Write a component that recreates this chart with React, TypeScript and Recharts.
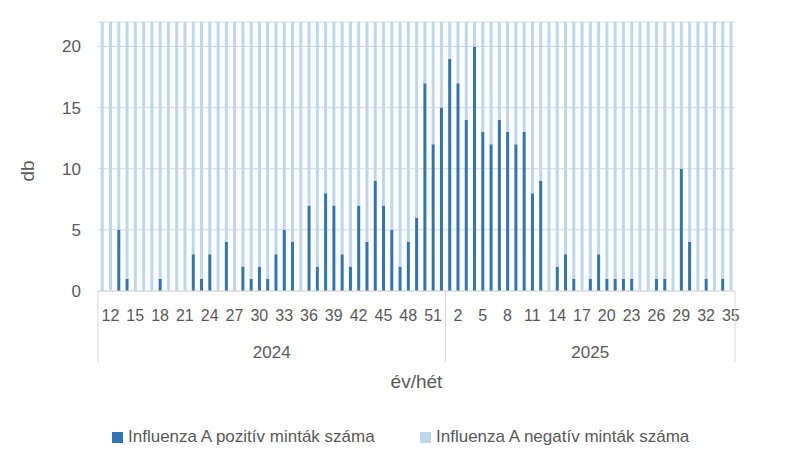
import React from 'react';
import { BarChart, Bar, XAxis, YAxis, CartesianGrid, Legend } from 'recharts';

// ---- categories ----
const weeks2024 = [11, 12, 13, 14, 15, 16, 17, 18, 19, 20, 21, 22, 23, 24, 25, 26, 27, 28, 29, 30, 31, 32, 33, 34, 35, 36, 37, 38, 39, 40, 41, 42, 43, 44, 45, 46, 47, 48, 49, 50, 51, 52];
const weeks2025 = [1, 2, 3, 4, 5, 6, 7, 8, 9, 10, 11, 12, 13, 14, 15, 16, 17, 18, 19, 20, 21, 22, 23, 24, 25, 26, 27, 28, 29, 30, 31, 32, 33, 34, 35];

// ---- tick labels shown on the axis ----
const shownTicks2024 = [12, 15, 18, 21, 24, 27, 30, 33, 36, 39, 42, 45, 48, 51];
const shownTicks2025 = [2, 5, 8, 11, 14, 17, 20, 23, 26, 29, 32, 35];

// ---- series values ----
const positive2024 = [0, 0, 5, 1, 0, 0, 0, 1, 0, 0, 0, 3, 1, 3, 0, 4, 0, 2, 1, 2, 1, 3, 5, 4, 0, 7, 2, 8, 7, 3, 2, 7, 4, 9, 7, 5, 2, 4, 6, 17, 12, 15];
const positive2025 = [19, 17, 14, 20, 13, 12, 14, 13, 12, 13, 8, 9, 0, 2, 3, 1, 0, 1, 3, 1, 1, 1, 1, 0, 0, 1, 1, 0, 10, 4, 0, 1, 0, 1, 0];
// negative counts run beyond the visible axis range (clipped at the top in the reference)
const negative2024 = [38, 41, 44, 40, 39, 42, 37, 36, 40, 35, 38, 41, 39, 43, 37, 40, 36, 42, 39, 41, 38, 44, 40, 37, 39, 45, 41, 43, 46, 40, 42, 47, 44, 48, 45, 43, 47, 49, 46, 52, 48, 50];
const negative2025 = [55, 53, 57, 54, 51, 56, 52, 50, 53, 49, 47, 48, 45, 46, 44, 43, 41, 42, 40, 39, 41, 38, 37, 40, 36, 38, 35, 37, 39, 36, 38, 35, 37, 34, 36];

const years = ['2024', '2025'];
const seriesNames = ['Influenza A pozitív minták száma', 'Influenza A negatív minták száma'];
const colors = ['#2E75B6', '#BDD7EE'];
const yTicks = [0, 5, 10, 15, 20];

type Row = { key: string; year: string; week: number; pos: number; neg: number; shown: boolean };

const data: Row[] = [
  ...weeks2024.map((w, i) => ({
    key: `2024-${w}`, year: years[0], week: w, pos: positive2024[i], neg: negative2024[i],
    shown: shownTicks2024.includes(w),
  })),
  ...weeks2025.map((w, i) => ({
    key: `2025-${w}`, year: years[1], week: w, pos: positive2025[i], neg: negative2025[i],
    shown: shownTicks2025.includes(w),
  })),
];

const yearSpans = years.map((y) => {
  const first = data.findIndex((d) => d.year === y);
  let last = first;
  data.forEach((d, i) => { if (d.year === y) last = i; });
  return { year: y, first, last, mid: (first + last) / 2 };
});

const TEXT = '#595959';
const LINE = '#D9D9D9';
const W = 790;
const H = 466;
const PLOT_LEFT = 98;
const PLOT_RIGHT = 735;

function WeekTick(props: any) {
  const { x, y, payload } = props;
  const index: number = payload?.index ?? props.index;
  const row = data[index];
  if (!row) return null;
  const half = payload?.offset ? payload.offset : (PLOT_RIGHT - PLOT_LEFT) / data.length / 2;
  const parts: React.ReactNode[] = [];
  if (row.shown) {
    parts.push(
      <text key="w" x={x} y={y + 24} textAnchor="middle" dominantBaseline="central" fontSize={16} fill={TEXT}>
        {row.week}
      </text>
    );
  }
  yearSpans.forEach((s) => {
    if (index === s.first) {
      parts.push(<line key={`l${s.year}`} x1={x - half} x2={x - half} y1={y} y2={y + 71} stroke={LINE} strokeWidth={1} />);
    }
    if (index === s.last && index === data.length - 1) {
      parts.push(<line key={`r${s.year}`} x1={x + half} x2={x + half} y1={y} y2={y + 71} stroke={LINE} strokeWidth={1} />);
    }
    if (index === Math.floor(s.mid)) {
      const cx = x + (s.mid - Math.floor(s.mid)) * 2 * half;
      parts.push(
        <text key={`y${s.year}`} x={cx} y={y + 61} textAnchor="middle" dominantBaseline="central" fontSize={17} fill={TEXT}>
          {s.year}
        </text>
      );
    }
  });
  return <g>{parts}</g>;
}

function renderXLabel(props: any) {
  const vb = props.viewBox || {};
  const cx = (vb.x ?? PLOT_LEFT) + (vb.width ?? PLOT_RIGHT - PLOT_LEFT) / 2;
  return (
    <text x={cx} y={381} textAnchor="middle" dominantBaseline="central" fontSize={19} fill={TEXT}>
      év/hét
    </text>
  );
}

function renderYLabel() {
  return (
    <text x={27} y={171} transform="rotate(-90 27 171)" textAnchor="middle" dominantBaseline="central" fontSize={19} fill={TEXT}>
      db
    </text>
  );
}

function renderLegend(props: any) {
  const raw = props.payload && props.payload.length ? props.payload : seriesNames.map((n, i) => ({ value: n, color: colors[i] }));
  const payload = [...raw].sort((a: any, b: any) => seriesNames.indexOf(a.value) - seriesNames.indexOf(b.value));
  const lefts = [112, 420];
  return (
    <div style={{ position: 'relative', height: 30, width: '100%' }}>
      {payload.map((p: any, i: number) => (
        <div key={i} style={{ position: 'absolute', left: lefts[i] ?? 112 + i * 308, top: 0, height: 30, display: 'flex', alignItems: 'center', whiteSpace: 'nowrap' }}>
          <span style={{ display: 'inline-block', width: 11, height: 11, background: p.color, marginRight: 5 }} />
          <span style={{ fontSize: 17, color: TEXT }}>{p.value}</span>
        </div>
      ))}
    </div>
  );
}

export default function App() {
  return (
    <div style={{ position: 'absolute', left: 0, top: 0, width: W, height: H, background: '#fff', fontFamily: '"Liberation Sans", Arial, sans-serif' }}>
      <BarChart
        width={W}
        height={H}
        data={data}
        margin={{ top: 22, right: W - PLOT_RIGHT, left: 0, bottom: 14 }}
        barCategoryGap="33.3%"
      >
        <CartesianGrid vertical={false} stroke={LINE} strokeWidth={1} />
        <XAxis
          dataKey="key"
          interval={0}
          height={131}
          tickLine={false}
          tickSize={0}
          tickMargin={0}
          axisLine={{ stroke: LINE, strokeWidth: 1 }}
          tick={<WeekTick />}
          label={renderXLabel}
        />
        <YAxis
          width={PLOT_LEFT}
          domain={[0, 22]}
          ticks={yTicks}
          allowDataOverflow
          axisLine={false}
          tickLine={false}
          tickMargin={11}
          tick={{ fontSize: 17, fill: TEXT }}
          label={renderYLabel}
        />
        <Legend verticalAlign="bottom" align="left" height={30} content={renderLegend} />
        <Bar dataKey="pos" name={seriesNames[0]} stackId="a" fill={colors[0]} isAnimationActive={false} />
        <Bar dataKey="neg" name={seriesNames[1]} stackId="a" fill={colors[1]} isAnimationActive={false} />
      </BarChart>
    </div>
  );
}
